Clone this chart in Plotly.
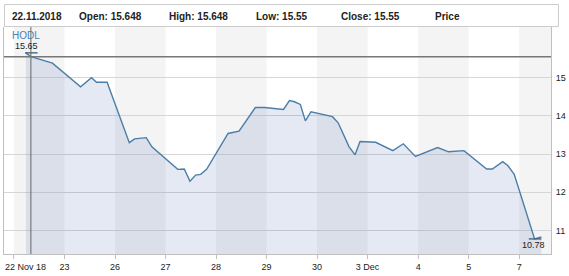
import plotly.graph_objects as go

# ---- data ----
tick_labels = ["22 Nov 18", "23", "26", "27", "28", "29", "30", "3 Dec", "4", "5", "7"]
tick_days = list(range(len(tick_labels)))

day = [0.236, 0.335, 0.762, 1.319, 1.535, 1.634, 1.844, 2.283, 2.388, 2.618, 2.730,
       3.242, 3.372, 3.484, 3.596, 3.695, 3.813, 4.238, 4.455, 4.778, 4.961, 5.335,
       5.453, 5.551, 5.669, 5.768, 5.880, 6.305, 6.417, 6.634, 6.752, 6.850, 7.159,
       7.500, 7.707, 7.947, 8.386, 8.602, 8.907, 9.356, 9.469, 9.675, 9.774, 9.902,
       10.305, 10.439]
price = [15.65, 15.55, 15.38, 14.76, 15.00, 14.88, 14.88, 13.30, 13.40, 13.43, 13.19,
         12.60, 12.61, 12.29, 12.45, 12.47, 12.60, 13.54, 13.60, 14.22, 14.22, 14.17,
         14.40, 14.37, 14.30, 13.87, 14.11, 13.98, 13.82, 13.19, 12.98, 13.33, 13.31,
         13.09, 13.27, 12.94, 13.17, 13.06, 13.09, 12.61, 12.61, 12.80, 12.70, 12.47,
         10.78, 10.83]

high_day, high_val, high_text = 0.344, 15.65, "15.65"
low_day, low_val, low_text = 10.315, 10.78, "10.78"
cross_idx = 1

y_ticks = [11, 12, 13, 14, 15]
header_texts = ["22.11.2018", "Open: 15.648", "High: 15.648", "Low: 15.55", "Close: 15.55", "Price"]
header_px = [9, 76, 167, 254, 340, 434]
series_name = "HODL"

# ---- layout constants ----
W, H = 569, 276
ML, MR, MT, MB = 3, 16, 27, 22
PW, PH = W - ML - MR, H - MT - MB
X_RANGE = [-0.197, 10.63]
Y_RANGE = [10.385, 16.327]
FONT = "Liberation Sans, Arial, sans-serif"
LINE_C = "#4a7ea8"

def px_to_paper_x(px):
    return (px - ML) / PW

def py_to_paper_y(py):
    return (H - MB - py) / PH

fig = go.Figure()
fig.add_trace(go.Scatter(
    x=day, y=price, mode="lines",
    line=dict(color=LINE_C, width=1.4),
    fill="tozeroy", fillcolor="rgba(70,100,170,0.14)",
    hoverinfo="skip", showlegend=False))

# high/low markers
fig.add_trace(go.Scatter(
    x=[high_day, low_day], y=[high_val, low_val], mode="markers",
    marker=dict(symbol="line-ew", size=9, line=dict(color="#3b5b7c", width=1.3)),
    hoverinfo="skip", showlegend=False))

shapes = []
# alternating day stripes
for i in range(0, len(tick_days), 2):
    x0 = tick_days[i]
    x1 = tick_days[i + 1] if i + 1 < len(tick_days) else X_RANGE[1]
    shapes.append(dict(type="rect", xref="x", yref="paper", x0=x0, x1=x1, y0=0, y1=1,
                       fillcolor="#f4f4f4", line=dict(width=0), layer="below"))
# crosshair
shapes.append(dict(type="line", xref="x", yref="paper", x0=day[cross_idx], x1=day[cross_idx],
                   y0=0, y1=1, line=dict(color="#666666", width=1)))
shapes.append(dict(type="line", xref="paper", yref="y", x0=0, x1=1, y0=price[cross_idx],
                   y1=price[cross_idx], line=dict(color="#777777", width=1.5)))
# header box
shapes.append(dict(type="rect", xref="paper", yref="paper",
                   x0=px_to_paper_x(3.5), x1=px_to_paper_x(560.5),
                   y0=py_to_paper_y(26.5), y1=py_to_paper_y(4.5),
                   line=dict(color="#cccccc", width=1), fillcolor="rgba(0,0,0,0)"))

annotations = []
for t, px in zip(header_texts, header_px):
    annotations.append(dict(text="<b>%s</b>" % t, xref="paper", yref="paper",
                            x=px_to_paper_x(px), y=py_to_paper_y(16), xanchor="left",
                            yanchor="middle", showarrow=False,
                            font=dict(family=FONT, size=10, color="#222222")))
annotations.append(dict(text=series_name, xref="paper", yref="paper",
                        x=px_to_paper_x(9), y=py_to_paper_y(35), xanchor="left",
                        yanchor="middle", showarrow=False,
                        font=dict(family=FONT, size=10, color="#4a80b4")))
annotations.append(dict(text=high_text, xref="x", yref="y", x=day[0], y=high_val,
                        xanchor="center", yanchor="middle", xshift=1, yshift=7,
                        showarrow=False, font=dict(family=FONT, size=9, color="#222222")))
annotations.append(dict(text=low_text, xref="x", yref="y", x=low_day, y=low_val,
                        xanchor="center", yanchor="middle", xshift=-2, yshift=-6,
                        showarrow=False, font=dict(family=FONT, size=9, color="#222222")))
# first x label kept inside the chart
annotations.append(dict(text=tick_labels[0], xref="x", yref="paper", x=tick_days[0], y=0,
                        xanchor="left", yanchor="top", xshift=-11, yshift=-6,
                        showarrow=False, font=dict(family=FONT, size=9, color="#222222")))

fig.update_layout(
    width=W, height=H, margin=dict(l=ML, r=MR, t=MT, b=MB),
    paper_bgcolor="white", plot_bgcolor="white",
    shapes=shapes, annotations=annotations, showlegend=False,
    xaxis=dict(range=X_RANGE, tickmode="array", tickvals=tick_days,
               ticktext=[""] + tick_labels[1:], showgrid=False, zeroline=False,
               showline=True, linecolor="#c0c0c0", linewidth=1,
               ticks="outside", ticklen=4, tickcolor="#c0c0c0",
               tickfont=dict(family=FONT, size=9, color="#222222"), fixedrange=True),
    yaxis=dict(range=Y_RANGE, side="right", tickmode="array", tickvals=y_ticks,
               showgrid=True, gridcolor="#d6d6d6", gridwidth=1, zeroline=False,
               showline=True, mirror=True, linecolor="#c0c0c0", linewidth=1,
               ticks="", ticklabelstandoff=2,
               tickfont=dict(family=FONT, size=9, color="#222222"), fixedrange=True),
)

fig.write_html("out.html", config={"displayModeBar": False})
